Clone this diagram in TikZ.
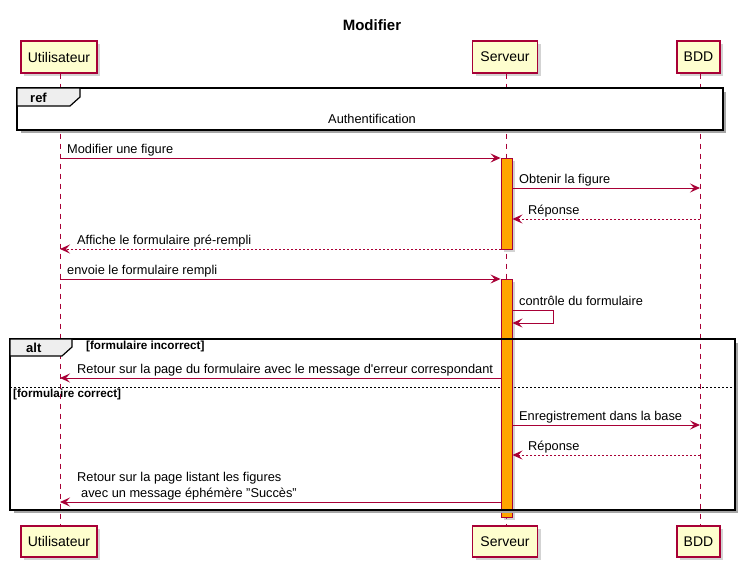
\documentclass[tikz,border=0pt]{standalone}
\usepackage{fontspec}
\setmainfont{Liberation Sans}
\usetikzlibrary{arrows.meta,shadows}
\definecolor{crim}{HTML}{A80036}
\definecolor{pfill}{HTML}{FEFECE}
\definecolor{actfill}{HTML}{FFA500}
\definecolor{tabfill}{HTML}{EEEEEE}
\begin{document}
\begin{tikzpicture}[x=1pt,y=-1pt,
  part/.style={draw=crim, fill=pfill, line width=1.2pt, inner sep=0pt,
    minimum height=32pt, font=\fontsize{14}{16}\selectfont,
    drop shadow={shadow xshift=3pt, shadow yshift=-3pt, opacity=0.35}},
  life/.style={crim, line width=0.8pt, dash pattern=on 5pt off 5pt},
  msg/.style={crim, line width=1pt, -{Stealth[length=10pt,width=9pt,inset=4pt]}},
  ret/.style={msg, dash pattern=on 2pt off 2pt},
  lbl/.style={anchor=base west, inner sep=0pt, font=\fontsize{12.8}{15}\selectfont},
  act/.style={draw=crim, fill=actfill, line width=0.9pt, inner sep=0pt, minimum width=11pt,
    drop shadow={shadow xshift=3pt, shadow yshift=-3pt, opacity=0.35}},
  frm/.style={draw=black, line width=1.5pt},
  fshadow/.style={draw=black!35, line width=3pt},
  tab/.style={draw=black, fill=tabfill, line width=1.2pt},
  tablbl/.style={anchor=base west, inner sep=0pt, font=\fontsize{13}{15}\selectfont\bfseries},
  guard/.style={anchor=base west, inner sep=0pt, font=\fontsize{11.7}{13}\selectfont\bfseries}
]
\useasboundingbox (0,0) rectangle (747,570);

% title
\node[anchor=base, inner sep=0pt, font=\fontsize{15}{17}\selectfont\bfseries] (title) at (372,30) {Modifier};

% lifeline x positions
\coordinate (LU) at (60,0);
\coordinate (LS) at (506.5,0);
\coordinate (LB) at (700,0);

% participants
\node[part, minimum width=76pt] (topU) at (59,57) {Utilisateur};
\node[part, minimum width=65pt] (topS) at (505,57) {Serveur};
\node[part, minimum width=43pt] (topB) at (698.5,57) {BDD};
\node[part, minimum width=76pt, minimum height=31pt] (botU) at (59,541.5) {Utilisateur};
\node[part, minimum width=65pt, minimum height=31pt] (botS) at (505,541.5) {Serveur};
\node[part, minimum width=43pt, minimum height=31pt] (botB) at (698.5,541.5) {BDD};

% lifelines
\draw[life] (LU |- topU.south) -- (LU |- botU.north);
\draw[life] (LS |- topS.south) -- (LS |- botS.north);
\draw[life] (LB |- topB.south) -- (LB |- botB.north);

% ref frame
\draw[fshadow] (21,131.8) -- (724.8,131.8) -- (724.8,92);
\draw[frm, fill=white] (17,88) rectangle (723,130);
\draw[tab] (17,88) -- (80,88) -- (80,97) -- (70,106) -- (17,106) -- cycle;
\node[tablbl] (reflbl) at (30,102) {ref};
\node[anchor=base, inner sep=0pt, font=\fontsize{12.8}{15}\selectfont] (auth) at (372,123) {Authentification};

% alt separator (under activations)
\draw[black, line width=0.9pt, dash pattern=on 2pt off 2pt] (10,387) -- (735,387);

% activations
\node[act, minimum height=91pt] (act1) at (506.5,203.5) {};
\node[act, minimum height=238pt] (act2) at (506.5,398) {};

% alt frame
\draw[fshadow] (14,511.8) -- (736.8,511.8) -- (736.8,343);
\draw[frm] (10,339) rectangle (735,510);
\draw[tab] (10,339) -- (72,339) -- (72,347) -- (62,356) -- (10,356) -- cycle;
\node[tablbl] (altlbl) at (26,352) {alt};
\node[guard] (g1) at (86,349) {[formulaire incorrect]};
\node[guard] (g2) at (13,397) {[formulaire correct]};

% messages
\draw[msg] (LU |- 0,158) -- (act1.west |- 0,158);
\node[lbl] (m1) at (67,153) {Modifier une figure};

\draw[msg] (act1.east |- 0,188) -- (LB |- 0,188);
\node[lbl] (m2) at (519,183) {Obtenir la figure};

\draw[ret] (LB |- 0,219) -- (act1.east |- 0,219);
\node[lbl] (m3) at (528,214) {Réponse};

\draw[ret] (act1.west |- 0,249) -- (LU |- 0,249);
\node[lbl] (m4) at (77,244) {Affiche le formulaire pré-rempli};

\draw[msg] (LU |- 0,279) -- (act2.west |- 0,279);
\node[lbl] (m5) at (67,274) {envoie le formulaire rempli};

\coordinate (selfA) at (553,310);
\coordinate (selfB) at (553,323);
\draw[msg] (act2.east |- 0,310) -- (selfA) -- (selfB) -- (act2.east |- 0,323);
\node[lbl] (m6) at (519,305) {contrôle du formulaire};

\draw[msg] (act2.west |- 0,378) -- (LU |- 0,378);
\node[lbl] (m7) at (77,373) {Retour sur la page du formulaire avec le message d\textquotesingle erreur correspondant};

\draw[msg] (act2.east |- 0,425) -- (LB |- 0,425);
\node[lbl] (m8) at (519,420) {Enregistrement dans la base};

\draw[ret] (LB |- 0,455) -- (act2.east |- 0,455);
\node[lbl] (m9) at (528,450) {Réponse};

\draw[msg] (act2.west |- 0,502) -- (LU |- 0,502);
\node[lbl] (m10a) at (77,481) {Retour sur la page listant les figures};
\node[lbl] (m10b) at (81,497) {avec un message éphémère "Succès"};
\end{tikzpicture}
\end{document}
